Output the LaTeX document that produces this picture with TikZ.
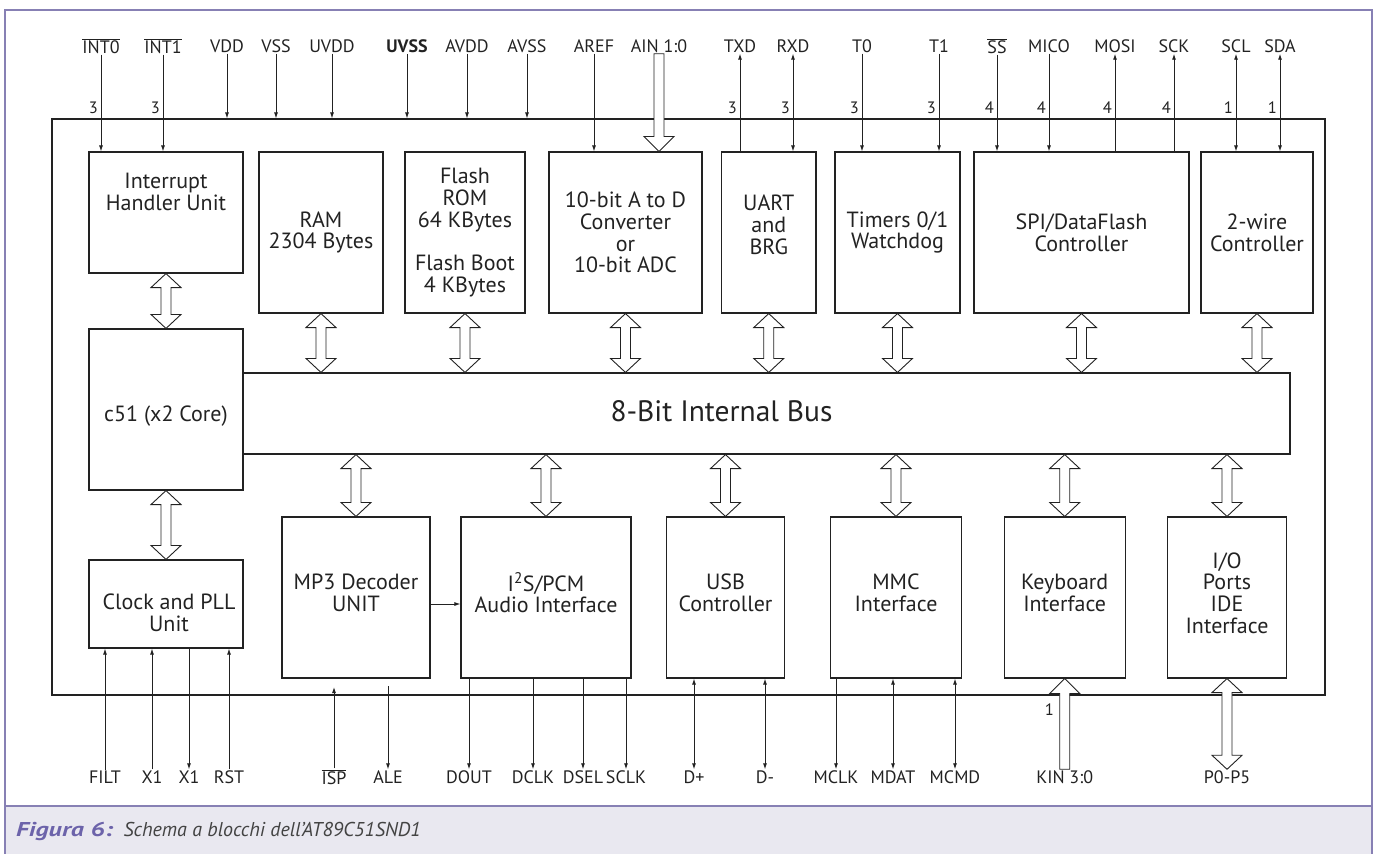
\documentclass[tikz,border=0pt]{standalone}
\usepackage{fontspec}
\setmainfont{PT Sans}
\usetikzlibrary{arrows.meta, calc}
\definecolor{frame}{HTML}{8780B4}
\definecolor{capband}{HTML}{E9E8F0}
\definecolor{capblue}{HTML}{6C63AA}
\definecolor{ink}{HTML}{222222}
\newcommand{\blkfont}{\fontsize{22}{21.7}\selectfont}
\newcommand{\pinfont}{\fontsize{18}{20}\selectfont}
\newcommand{\numfont}{\fontsize{16.5}{18}\selectfont}

% hollow double arrow between two points, #1 above #2
\newcommand{\busarrow}[2]{%
  \draw[fat] let \p1=(#1), \p2=(#2) in
    (\x1,\y1) -- (\x1+15pt,\y1-14pt) -- (\x1+5pt,\y1-14pt) -- (\x1+5pt,\y2+14pt)
    -- (\x1+15pt,\y2+14pt) -- (\x1,\y2) -- (\x1-15pt,\y2+14pt) -- (\x1-5pt,\y2+14pt)
    -- (\x1-5pt,\y1-14pt) -- (\x1-15pt,\y1-14pt) -- cycle;}
% hollow single arrow, tail at #1 (above), tip at #2
\newcommand{\fatdown}[2]{%
  \draw[fat] let \p1=(#1), \p2=(#2) in
    (\x1-5pt,\y1) -- (\x1-5pt,\y2+15pt) -- (\x1-15pt,\y2+15pt) -- (\x1,\y2)
    -- (\x1+15pt,\y2+15pt) -- (\x1+5pt,\y2+15pt) -- (\x1+5pt,\y1) -- cycle;}
% hollow single arrow, tip at #1 (above), tail at #2
\newcommand{\fatup}[2]{%
  \draw[fat] let \p1=(#1), \p2=(#2) in
    (\x1,\y1) -- (\x1+15pt,\y1-15pt) -- (\x1+5pt,\y1-15pt) -- (\x1+5pt,\y2)
    -- (\x1-5pt,\y2) -- (\x1-5pt,\y1-15pt) -- (\x1-15pt,\y1-15pt) -- cycle;}

\tikzset{
  blk/.style={draw=ink, line width=1.1pt, inner sep=0pt, align=center, font=\blkfont, text=ink},
  txt/.style={align=center, font=\blkfont, text=ink, inner sep=0pt},
  pin/.style={font=\pinfont, text=ink, inner sep=1pt},
  num/.style={font=\numfont, text=ink, inner sep=1pt, anchor=east},
  sig/.style={draw=ink, line width=0.9pt, -{Latex[length=6pt,width=4pt]}},
  sigb/.style={draw=ink, line width=0.9pt, {Latex[length=6pt,width=4pt]}-{Latex[length=6pt,width=4pt]}},
  fat/.style={draw=ink, line width=0.9pt, fill=white, line join=miter},
}

\begin{document}
\begin{tikzpicture}[x=1pt, y=-1pt]
\useasboundingbox (0,0) rectangle (1377,854);

%--- Page frame and caption band
\fill[capband] (5,806) rectangle (1372,856);
\draw[frame, line width=2.5pt] (5,856) -- (5,10) -- (1372,10) -- (1372,856);
\draw[frame, line width=2.5pt] (5,806) -- (1372,806);

%--- Chip outline
\node[draw=ink, line width=1.1pt, inner sep=0pt, minimum width=1273pt, minimum height=576pt] (chip) at (688.5,407) {};

%=== TOP ROW OF BLOCKS ===
\node[blk, minimum width=154pt, minimum height=121pt] (intr) at (166,212.5) {};
\node[txt] (intr-t) at (166,192) {Interrupt\\Handler Unit};
\node[blk, minimum width=124pt, minimum height=161pt] (ram) at (321,232.5) {RAM\\2304 Bytes};
\node[blk, minimum width=120pt, minimum height=161pt] (flash) at (465,232.5) {Flash\\ROM\\64 KBytes\\[21.7pt]Flash Boot\\4 KBytes};
\node[blk, minimum width=153pt, minimum height=161pt] (adc) at (625.5,232.5) {10-bit A to D\\Converter\\or\\10-bit ADC};
\node[blk, minimum width=94.5pt, minimum height=161pt] (uart) at (768.75,232.5) {};
\node[txt] (uart-t) at (768.75,225) {UART\\and\\BRG};
\node[blk, minimum width=125pt, minimum height=161pt] (timer) at (897.5,232.5) {Timers 0/1\\Watchdog};
\node[blk, minimum width=215pt, minimum height=161pt] (spi) at (1081.5,232.5) {SPI/DataFlash\\Controller};
\node[blk, minimum width=112pt, minimum height=161pt] (twowire) at (1257,232.5) {2-wire\\Controller};

%=== CORE AND BUS ===
\node[blk, minimum width=154pt, minimum height=161pt] (c51) at (166,409.5) {};
\node[txt] (c51-t) at (166,416) {c51 (x2 Core)};
\node[blk, minimum width=1047pt, minimum height=81pt] (bus) at (766.5,413.5) {};
\node[txt, font=\fontsize{29.5}{32}\selectfont] (bus-t) at (721.5,411) {8-Bit Internal Bus};

%=== BOTTOM ROW OF BLOCKS ===
\node[blk, minimum width=154pt, minimum height=88pt] (clock) at (166,604) {};
\node[txt] (clock-t) at (169,613) {Clock and PLL\\Unit};
\foreach \nm/\cx/\w/\tx in {mp3/356/148/{MP3 Decoder\\UNIT}, i2s/546/170/{I\textsuperscript{2}S/PCM\\Audio Interface},
    usb/725.5/117.6/{USB\\Controller}, mmc/896/131.4/{MMC\\Interface}, kbd/1064.7/120.7/{Keyboard\\Interface},
    io/1227/119.4/{I/O\\Ports\\IDE\\Interface}} {
  \node[blk, minimum width=\w pt, minimum height=161pt] (\nm) at (\cx,597.5) {};
  \node[txt] (\nm-t) at (\cx,593) {\tx};
}

%--- Internal bus connections
\busarrow{intr.south}{c51.north}
\busarrow{c51.south}{clock.north}
\foreach \b in {ram, flash, adc, uart, timer, spi, twowire} {
  \busarrow{\b.south}{\b.south |- bus.north}
}
\foreach \b in {mp3, i2s, usb, mmc, kbd, io} {
  \busarrow{bus.south -| \b.north}{\b.north}
}
\draw[sig] ([yshift=-6.5pt]mp3.east) -- ([yshift=-6.5pt]mp3.east -| i2s.west);

%=== TOP PINS ===
% supply pins end on the chip outline
\foreach \nm/\px/\tx in {vdd/227/VDD, vss/276/VSS, uvdd/332/UVDD, uvss/407/\textbf{UVSS}, avdd/467/AVDD, avss/527/AVSS} {
  \node[pin] (p\nm) at (\px,46) {\tx};
  \draw[sig] (p\nm) -- (p\nm |- chip.north);
}
% inputs into blocks
\foreach \nm/\px/\tx/\blk in {int0/101/{$\overline{\hbox{INT0}}$}/intr, int1/163/{$\overline{\hbox{INT1}}$}/intr,
    aref/594/AREF/adc, t0/862/T0/timer, t1/939/T1/timer, ss/997/{$\overline{\hbox{SS}}$}/spi, mico/1049/MICO/spi} {
  \node[pin] (p\nm) at (\px,46) {\tx};
  \draw[sig] (p\nm) -- (p\nm |- \blk.north);
}
% outputs
\foreach \nm/\px/\tx/\blk in {txd/740/TXD/uart, mosi/1115/MOSI/spi, sck/1174/SCK/spi} {
  \node[pin] (p\nm) at (\px,46) {\tx};
  \draw[sig] (p\nm |- \blk.north) -- (p\nm);
}
% bidirectional
\foreach \nm/\px/\tx/\blk in {rxd/793/RXD/uart, scl/1236/SCL/twowire, sda/1280/SDA/twowire} {
  \node[pin] (p\nm) at (\px,46) {\tx};
  \draw[sigb] (p\nm |- \blk.north) -- (p\nm);
}
% analog input bus
\node[pin] (pain) at (659,46) {AIN 1:0};
\fatdown{pain.south}{pain.south |- adc.north}

%--- pin counts
\foreach \nm/\n in {int0/3, int1/3, txd/3, rxd/3, t0/3, t1/3, ss/4, mico/4, mosi/4, sck/4, scl/1, sda/1} {
  \node[num] (n\nm) at ($(p\nm |- chip.north)+(-2,-11)$) {\n};
}

%=== BOTTOM PINS ===
\foreach \nm/\px/\tx in {filt/105/FILT, xa/152/X1, rst/229/RST} {
  \node[pin] (p\nm) at (\px,777) {\tx};
  \draw[sig] (p\nm) -- (p\nm |- clock.south);
}
\node[pin] (pxb) at (189,777) {X1};
\draw[sig] (pxb |- clock.south) -- (pxb);

\node[pin] (pisp) at (334,777) {$\overline{\hbox{ISP}}$};
\coordinate (isp-end) at (334,687);
\draw[sig] (pisp) -- (isp-end);
\node[pin] (pale) at (388,777) {ALE};
\coordinate (ale-start) at (388,686);
\draw[sig] (ale-start) -- (pale);

\foreach \nm/\px/\tx/\blk in {dout/469/DOUT/i2s, dclk/533/DCLK/i2s, dsel/583/DSEL/i2s, sclk/626/SCLK/i2s, mclk/836/MCLK/mmc} {
  \node[pin] (p\nm) at (\px,777) {\tx};
  \draw[sig] (p\nm |- \blk.south) -- (p\nm);
}
\foreach \nm/\px/\tx/\blk in {dp/694/D+/usb, dm/765/D-/usb, mdat/893/MDAT/mmc, mcmd/955/MCMD/mmc} {
  \node[pin] (p\nm) at (\px,777) {\tx};
  \draw[sigb] (p\nm |- \blk.south) -- (p\nm);
}

\node[pin] (pkin) at (1064.7,777) {KIN 3:0};
\fatup{pkin.north |- kbd.south}{pkin.north}
\node[num] (nkin) at (1055,710) {1};
\node[pin] (pport) at (1227,777) {P0-P5};
\busarrow{pport.north |- io.south}{pport.north}

%=== CAPTION ===
\node[anchor=west, inner sep=0pt, font=\fontsize{20}{22}\selectfont] (caption) at (16,831)
  {\textcolor{capblue}{\scalebox{1.3}[1]{\bfseries\itshape Figura 6:}}\ \ \textcolor{ink!85}{\itshape Schema a blocchi dell’AT89C51SND1}};

\end{tikzpicture}
\end{document}
